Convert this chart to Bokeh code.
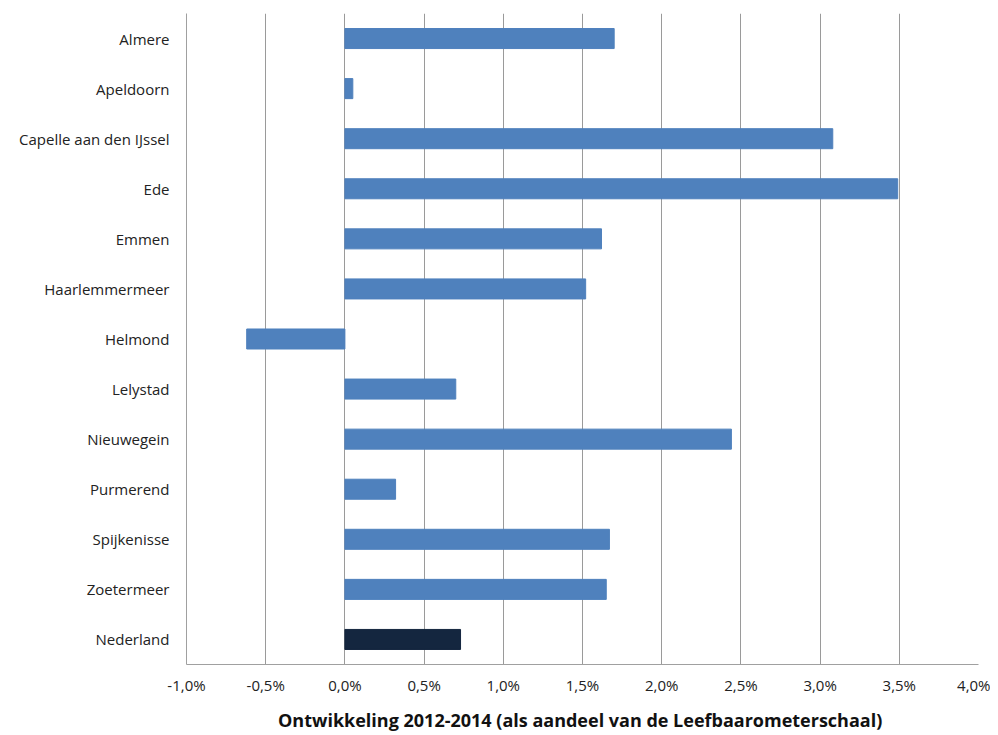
from bokeh.plotting import figure
from bokeh.models import FactorRange, FixedTicker, ColumnDataSource
from bokeh.embed import file_html
from bokeh.resources import INLINE

gemeenten = ["Almere", "Apeldoorn", "Capelle aan den IJssel", "Ede", "Emmen",
             "Haarlemmermeer", "Helmond", "Lelystad", "Nieuwegein", "Purmerend",
             "Spijkenisse", "Zoetermeer", "Nederland"]
ontwikkeling = [1.70, 0.05, 3.08, 3.49, 1.62, 1.52, -0.62, 0.70, 2.44, 0.32, 1.67, 1.65, 0.73]
kleuren = ["#4F81BD"] * 12 + ["#14263F"]
tick_waarden = [-1.0, -0.5, 0.0, 0.5, 1.0, 1.5, 2.0, 2.5, 3.0, 3.5, 4.0]
tick_labels = ["-1,0%", "-0,5%", "0,0%", "0,5%", "1,0%", "1,5%", "2,0%", "2,5%", "3,0%", "3,5%", "4,0%"]
x_titel = "Ontwikkeling 2012-2014  (als aandeel van de Leefbaarometerschaal)"

source = ColumnDataSource(dict(gemeente=gemeenten, waarde=ontwikkeling, kleur=kleuren))

p = figure(y_range=FactorRange(factors=list(reversed(gemeenten))),
           x_range=(-1.0, 4.0),
           frame_width=792, frame_height=651,
           min_border_left=186, min_border_right=12, min_border_top=13, min_border_bottom=55,
           output_backend="svg", toolbar_location=None)

p.hbar(y="gemeente", left=0, right="waarde", height=0.4, color="kleur", source=source)

p.outline_line_color = None
p.background_fill_color = "white"
p.border_fill_color = "white"

p.xaxis.ticker = FixedTicker(ticks=tick_waarden)
p.xaxis.major_label_overrides = {v: l for v, l in zip(tick_waarden, tick_labels)}
p.xgrid.ticker = FixedTicker(ticks=tick_waarden)
p.xgrid.grid_line_color = "#9a9a9a"
p.xgrid.grid_line_width = 1
p.ygrid.grid_line_color = None

for ax in (p.xaxis, p.yaxis):
    ax.axis_line_color = "#a0a0a0"
    ax.major_tick_line_color = None
    ax.minor_tick_line_color = None
    ax.major_label_text_font = "Open Sans"
    ax.major_label_text_font_size = "15px"
    ax.major_label_text_color = "#222222"

p.xaxis.major_label_standoff = 4
p.yaxis.major_label_standoff = 11
p.xaxis.axis_label = x_titel
p.xaxis.axis_label_text_font = "Open Sans"
p.xaxis.axis_label_text_font_style = "bold"
p.xaxis.axis_label_text_font_size = "18px"
p.xaxis.axis_label_text_color = "#111111"
p.xaxis.axis_label_standoff = 10

open("out.html", "w").write(file_html(p, INLINE))
